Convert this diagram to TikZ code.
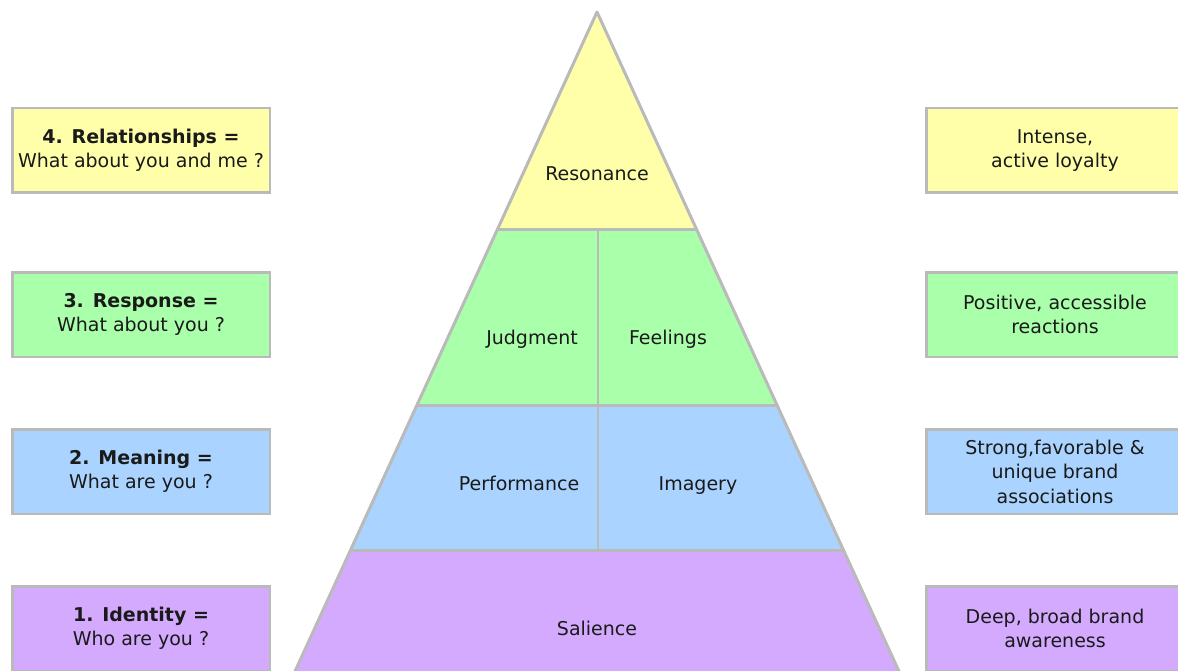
\documentclass[tikz,border=0pt]{standalone}
\usepackage{fontspec}
\setmainfont{DejaVu Sans}
\definecolor{lvlyellow}{HTML}{FFFFAA}
\definecolor{lvlgreen}{HTML}{AAFFAA}
\definecolor{lvlblue}{HTML}{AAD4FF}
\definecolor{lvlpurple}{HTML}{D4AAFF}
\definecolor{edgegray}{HTML}{BABABA}
\definecolor{ink}{HTML}{1A1A1A}
\begin{document}
\begin{tikzpicture}[x=1pt,y=-1pt,
  lbl/.style={font=\fontsize{19}{23}\selectfont, text=ink, align=center,
    inner sep=0pt, text height=14pt, text depth=4pt},
  sidebox/.style={draw=edgegray, line width=2.5pt, minimum width=257.5pt,
    minimum height=84.5pt, inner sep=0pt, anchor=center, align=center,
    font=\fontsize{19}{24.5}\selectfont, text=ink},
  edge/.style={draw=edgegray, line width=3pt, line join=round}
]
\useasboundingbox (0,0) rectangle (1178,671);
\clip (0,0) rectangle (1178,671);
\fill[white] (0,0) rectangle (1178,671);

% pyramid layers
\coordinate (apex) at (597,12);
\coordinate (l1) at (497.2,230);  \coordinate (r1) at (696.8,230);
\coordinate (l2) at (417,405);    \coordinate (r2) at (777,405);
\coordinate (l3) at (350.6,550);  \coordinate (r3) at (843.4,550);
\coordinate (l4) at (291.5,679);  \coordinate (r4) at (902.5,679);
\coordinate (m1) at (598,230);    \coordinate (m3) at (598,550);

\fill[lvlyellow] (apex) -- (r1) -- (l1) -- cycle;
\fill[lvlgreen] (l1) -- (r1) -- (r2) -- (l2) -- cycle;
\fill[lvlblue] (l2) -- (r2) -- (r3) -- (l3) -- cycle;
\fill[lvlpurple] (l3) -- (r3) -- (r4) -- (l4) -- cycle;

\draw[edge] (l4) -- (apex) -- (r4);
\draw[edge] (l1) -- (r1);
\draw[edge] (l2) -- (r2);
\draw[edge] (l3) -- (r3);
\draw[edge, line width=2.5pt] (m1) -- (m3);

\node[lbl] (resonance) at (597,176) {Resonance};
\node[lbl] (judgment) at (532,339) {Judgment};
\node[lbl] (feelings) at (668,339) {Feelings};
\node[lbl] (performance) at (519,485) {Performance};
\node[lbl] (imagery) at (698,485) {Imagery};
\node[lbl] (salience) at (597,630) {Salience};

% left column: questions
\node[sidebox, fill=lvlyellow] (q4) at (141,150.5) {\textbf{4. Relationships =}\\What about you and me ?};
\node[sidebox, fill=lvlgreen] (q3) at (141,314.5) {\textbf{3. Response =}\\What about you ?};
\node[sidebox, fill=lvlblue] (q2) at (141,471.5) {\textbf{2. Meaning =}\\What are you ?};
\node[sidebox, fill=lvlpurple] (q1) at (141,628.5) {\textbf{1. Identity =}\\Who are you ?};

% right column: outcomes
\node[sidebox, fill=lvlyellow] (o4) at (1055,150.5) {Intense,\\active loyalty};
\node[sidebox, fill=lvlgreen] (o3) at (1055,314.5) {Positive, accessible\\reactions};
\node[sidebox, fill=lvlblue] (o2) at (1055,471.5) {Strong,favorable \&\\unique brand\\associations};
\node[sidebox, fill=lvlpurple] (o1) at (1055,628.5) {Deep, broad brand\\awareness};
\end{tikzpicture}
\end{document}
